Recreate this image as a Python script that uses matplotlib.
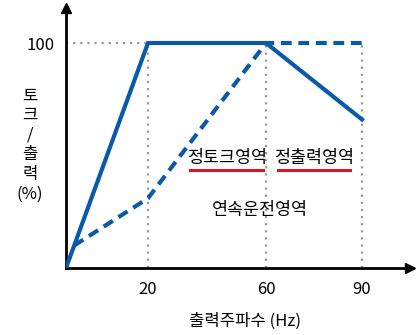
import numpy as np
import matplotlib.pyplot as plt
from matplotlib.scale import FuncScale

plt.rcParams['font.family'] = ['Noto Sans CJK KR', 'DejaVu Sans']

# 데이터
freq_ticks = [20, 60, 90]
torque_x = [0, 20, 60, 90]
torque_y = [0, 100, 100, 66]
power_x = [2, 20, 60, 90]
power_y = [10, 31, 100, 100]

blue = '#0b5aa8'
red = '#e0141e'

# 비선형 x축 (그림의 눈금 간격 그대로)
f_pts = [0, 20, 60, 90, 120]
p_pts = [0, 82, 200, 296, 392]


def fwd(x):
    return np.interp(x, f_pts, p_pts)


def inv(p):
    return np.interp(p, p_pts, f_pts)


fig = plt.figure(figsize=(4.17, 3.35), dpi=100)
ax = fig.add_axes([66 / 417, 67 / 335, 344 / 417, 260 / 335])
ax.set_xscale(FuncScale(ax, (fwd, inv)))
ax.set_xlim(0, inv(344))
ax.set_ylim(0, 260 / 2.25)

for s in ['top', 'right']:
    ax.spines[s].set_visible(False)
for s in ['left', 'bottom']:
    ax.spines[s].set_linewidth(2)
    ax.spines[s].set_color('black')

# 화살표
ax.plot(1, 0, '>k', transform=ax.transAxes, clip_on=False, markersize=7)
ax.plot(0, 1, '^k', transform=ax.transAxes, clip_on=False, markersize=7)

# 점선 가이드
for f in freq_ticks:
    ax.plot([f, f], [0, 100], color='#999999', ls=(0, (1, 2.2)), lw=1.6, zorder=1)
ax.plot([0, 20], [100, 100], color='#999999', ls=(0, (1, 2.2)), lw=1.6, zorder=1)

ax.plot(torque_x, torque_y, color=blue, lw=3, solid_joinstyle='miter', zorder=3)
ax.plot(power_x, power_y, color=blue, lw=3, ls=(0, (2.6, 1.6)), zorder=3)

ax.set_xticks(freq_ticks)
ax.set_xticklabels([str(f) for f in freq_ticks])
ax.set_yticks([100])
ax.set_yticklabels(['100'])
ax.tick_params(length=0, labelsize=12, pad=9)
ax.tick_params(axis='y', pad=8)

fig.text(245 / 417, 1 - 321 / 335, '출력주파수 (Hz)', ha='center', va='center', fontsize=12)
fig.text(30 / 417, 1 - 145 / 335, '토\n크\n/\n출\n력\n(%)', ha='center', va='center',
         fontsize=12, linespacing=1.2)

ax.text(46.8, 49, '정토크영역', ha='center', va='center', fontsize=12.5)
ax.text(75, 49, '정출력영역', ha='center', va='center', fontsize=12.5)
ax.text(58, 25.8, '연속운전영역', ha='center', va='center', fontsize=12.5)
ax.plot([34.2, 59], [43.4, 43.4], color=red, lw=2.2)
ax.plot([63.8, 86.3], [43.4, 43.4], color=red, lw=2.2)

fig.savefig('out.png', dpi=100)
